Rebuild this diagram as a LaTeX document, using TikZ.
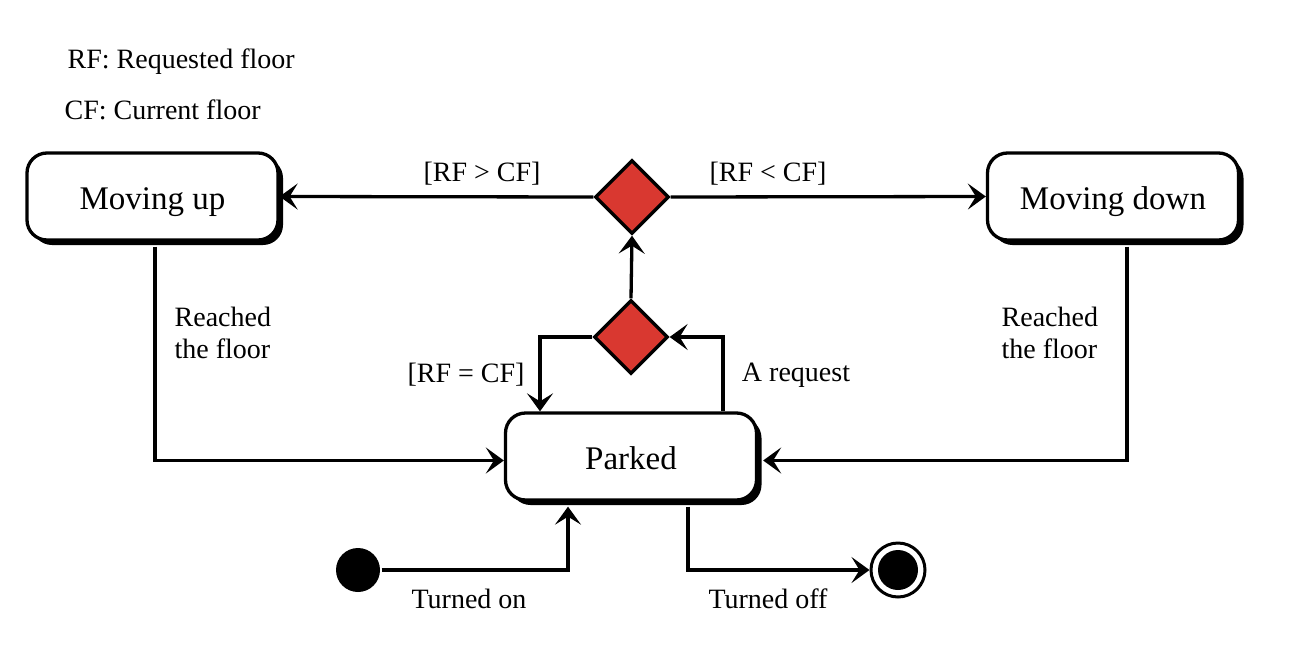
\documentclass[tikz,border=0pt]{standalone}
\usepackage{fontspec}
\setmainfont{Liberation Serif}
\usetikzlibrary{shapes.geometric,arrows.meta,shadows,calc}
\definecolor{dred}{RGB}{217,56,48}
\begin{document}
\begin{tikzpicture}[x=1pt,y=-1pt,
  line width=3.3pt,
  state/.style={draw=black,fill=white,rounded corners=20pt,minimum width=251pt,minimum height=87pt,
    font=\fontsize{33}{38}\selectfont,inner sep=0pt,text height=28pt,text depth=2pt,
    drop shadow={shadow xshift=5pt,shadow yshift=-5pt,fill=black,opacity=1}},
  choice/.style={diamond,draw=black,fill=dred,minimum width=74pt,minimum height=74pt,inner sep=0pt},
  lbl/.style={font=\fontsize{28}{32}\selectfont,inner sep=0pt},
  arr/.style={-{Stealth[length=18pt,width=26pt,inset=8pt]}},
  initst/.style={circle,fill=black,minimum size=44pt,inner sep=0pt},
]
\useasboundingbox (0,0) rectangle (1290,656);
\node[state] (mu) at (152.5,196.5) {Moving up};
\node[state] (md) at (1113,196.5) {Moving down};
\node[state] (pk) at (631,456.5) {Parked};
\node[choice] (d1) at (632,197) {};
\node[choice] (d2) at (631,337) {};
\node[initst] (init) at (358,570) {};
\node[circle,draw=black,line width=3pt,minimum size=54pt,inner sep=0pt] (fin) at (898,570) {};
\node[circle,fill=black,minimum size=40pt,inner sep=0pt] (finin) at (fin.center) {};

\node[lbl,anchor=west] (l1) at (66,62) {RF: Requested floor};
\node[lbl,anchor=west] (l2) at (63,110) {CF: Current floor};

\draw[arr] (d1.west) -- (mu.east);
\draw[arr] (d1.east) -- (md.west);
\node[lbl] (t1) at (482,174) {[RF > CF]};
\node[lbl] (t2) at (768,174) {[RF < CF]};
\draw[arr] (d2.north) -- (d1.south);
\draw[arr] (d2.west) -| ([xshift=-91pt]pk.north);
\draw[arr] ([xshift=92pt]pk.north) |- (d2.east);
\node[lbl] (t3) at (466,375) {[RF = CF]};
\node[lbl] (t4) at (796,375) {A request};
\draw[arr] ([xshift=2.5pt,yshift=-5pt]mu.south) |- ([yshift=-4pt]pk.west);
\draw[arr] ([xshift=14pt,yshift=-5pt]md.south) |- ([xshift=5pt,yshift=-4pt]pk.east);
\node[lbl,align=left,anchor=west] (t5) at (173,333) {Reached\\the floor};
\node[lbl,align=left,anchor=west] (t6) at (1000,333) {Reached\\the floor};
\draw[arr] (init.east) -| ([xshift=-63pt,yshift=-5pt]pk.south);
\draw[arr] ([xshift=57pt,yshift=-5pt]pk.south) |- (fin.west);
\node[lbl] (t7) at (469,599) {Turned on};
\node[lbl] (t8) at (768,599) {Turned off};
\end{tikzpicture}
\end{document}
